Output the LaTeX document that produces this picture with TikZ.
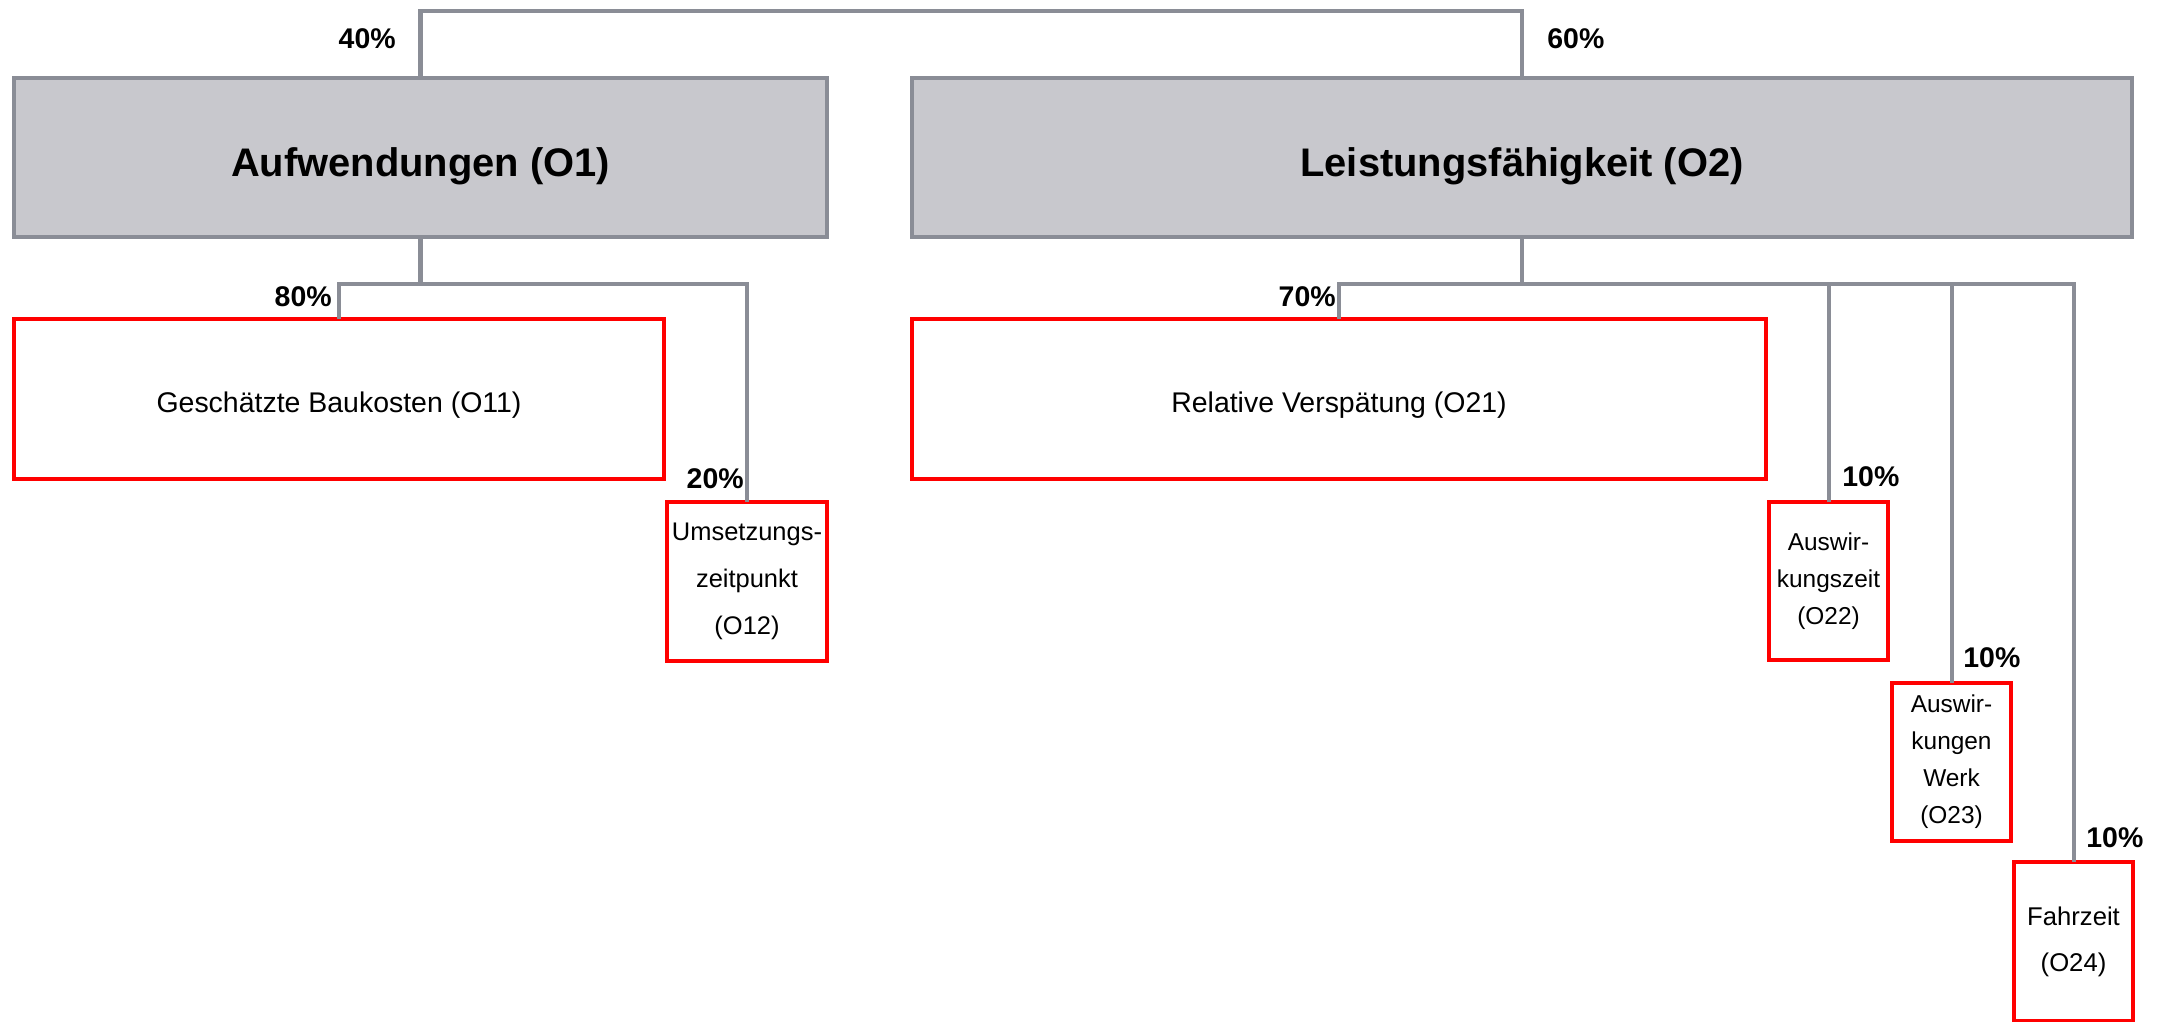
\documentclass[tikz,border=0pt]{standalone}
\usepackage{fontspec}
\setmainfont{Liberation Sans}
\definecolor{linegray}{HTML}{8A8D96}
\definecolor{boxgray}{HTML}{C8C8CD}

\begin{document}
\begin{tikzpicture}[x=0.02cm, y=-0.02cm,
    link/.style={draw=linegray, line width=2.3pt},
    head/.style={draw=linegray, fill=boxgray, line width=2.3pt, inner sep=0pt, outer sep=0pt, minimum height=3.18cm, text height=22pt, text depth=0pt, font=\fontsize{22.7}{27}\selectfont\bfseries},
    leaf/.style={draw=red, line width=2.3pt, inner sep=0pt, outer sep=0pt, align=center},
    pct/.style={inner sep=0pt, font=\fontsize{16.2}{19}\selectfont\bfseries}]
    \useasboundingbox (0,0) rectangle (2163,1021);
    \node[head, minimum width=16.28cm] (o1) at (420.5,157.5) {Aufwendungen (O1)}; % costs
    \node[head, minimum width=24.4cm] (o2) at (1522,157.5) {Leistungsfähigkeit (O2)}; % performance
    \node[leaf, minimum width=13cm, minimum height=3.2cm, text height=15.5pt, text depth=0pt, font=\fontsize{16.2}{19}\selectfont] (o11) at (339,399) {Geschätzte Baukosten (O11)};
    \node[leaf, minimum width=3.2cm, minimum height=3.18cm, font=\fontsize{14.5}{26.7}\selectfont] (o12) at (747,581.5) {Umsetzungs-\\zeitpunkt\\(O12)};
    \node[leaf, minimum width=17.08cm, minimum height=3.2cm, text height=15.5pt, text depth=0pt, font=\fontsize{16.2}{19}\selectfont] (o21) at (1339,399) {Relative Verspätung (O21)};
    \node[leaf, minimum width=2.38cm, minimum height=3.16cm, font=\fontsize{13.9}{21}\selectfont] (o22) at (1828.5,581) {Auswir-\\kungszeit\\(O22)};
    \node[leaf, minimum width=2.38cm, minimum height=3.16cm, font=\fontsize{13.9}{21}\selectfont] (o23) at (1951.5,762) {Auswir-\\kungen\\Werk\\(O23)};
    \node[leaf, minimum width=2.38cm, minimum height=3.18cm, font=\fontsize{14.6}{26.2}\selectfont] (o24) at (2073.5,941.5) {Fahrzeit\\(O24)};
    \coordinate (top) at (971,11);
    \coordinate (bus1) at (420.5,284);
    \coordinate (bus2) at (1522,284);
    \draw[link] (o1.north) |- (top) -| (o2.north); % root
    \draw[link] (o1.south) -- (bus1);
    \draw[link] (o11.north) |- (bus1) -| (o12.north);
    \draw[link] (o2.south) -- (bus2);
    \draw[link] (o21.north) |- (bus2) -| (o24.north);
    \draw[link] (o22.north) -- (o22.north |- bus2);
    \draw[link] (o23.north) -- (o23.north |- bus2);
    \node[pct, anchor=base east] (w1) at (396,49) {40\%};
    \node[pct, anchor=base west] (w2) at (1547,49) {60\%};
    \node[pct, anchor=base east] (w11) at (332,306) {80\%};
    \node[pct, anchor=base east] (w12) at (744,488) {20\%};
    \node[pct, anchor=base east] (w21) at (1336,306) {70\%};
    \node[pct, anchor=base west] (w22) at (1842,486) {10\%};
    \node[pct, anchor=base west] (w23) at (1963,667) {10\%};
    \node[pct, anchor=base west] (w24) at (2086,847) {10\%};
\end{tikzpicture}
\end{document}
